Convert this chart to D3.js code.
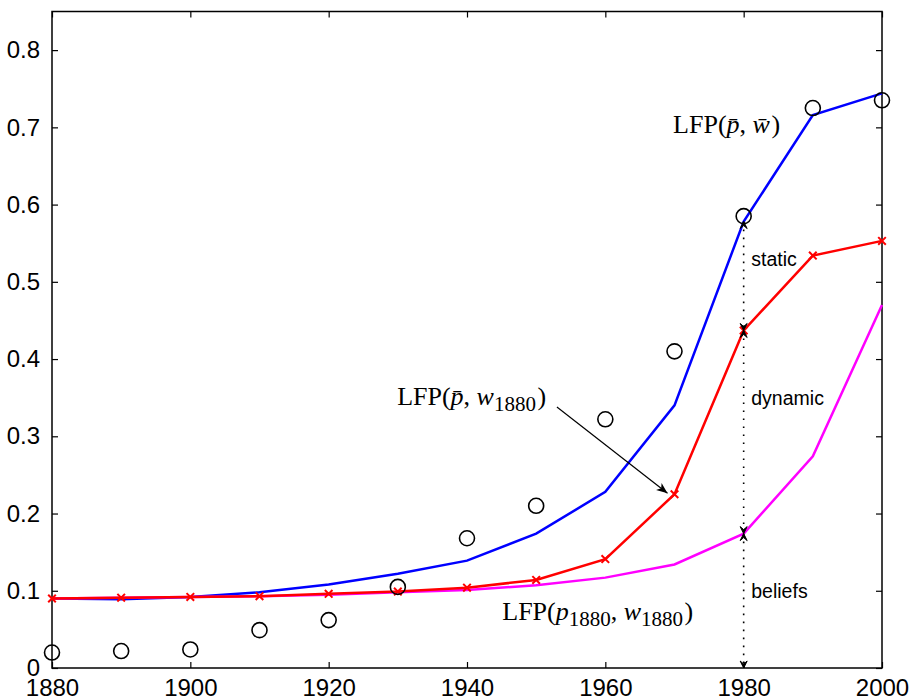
<!DOCTYPE html>
<html>
<head>
<meta charset="utf-8">
<script src="https://cdn.jsdelivr.net/npm/d3@7/dist/d3.min.js"></script>
<style>
  html, body { margin: 0; padding: 0; background: #fff; }
  svg { display: block; }
</style>
</head>
<body>
<svg id="chart" width="912" height="700"></svg>
<script>
// ---- data ----
const years = [1880, 1890, 1900, 1910, 1920, 1930, 1940, 1950, 1960, 1970, 1980, 1990, 2000];
const lfpBarPBarW = [0.090, 0.089, 0.092, 0.098, 0.108, 0.122, 0.139, 0.174, 0.228, 0.340, 0.578, 0.716, 0.744];
const lfpBarPW1880 = [0.090, 0.091, 0.092, 0.093, 0.096, 0.099, 0.104, 0.114, 0.141, 0.225, 0.437, 0.534, 0.553];
const lfpP1880W1880 = [0.090, 0.091, 0.092, 0.093, 0.095, 0.098, 0.101, 0.107, 0.117, 0.134, 0.174, 0.274, 0.470];
const observed = [0.020, 0.022, 0.024, 0.049, 0.062, 0.105, 0.168, 0.210, 0.322, 0.410, 0.585, 0.725, 0.735];
const xTicks = [1880, 1900, 1920, 1940, 1960, 1980, 2000];
const yTicks = [0, 0.1, 0.2, 0.3, 0.4, 0.5, 0.6, 0.7, 0.8];
const yTickLabels = ["0", "0.1", "0.2", "0.3", "0.4", "0.5", "0.6", "0.7", "0.8"];
const decompYear = 1980;
const decompNames = ["static", "dynamic", "beliefs"];

// ---- layout ----
const W = 912, H = 700;
const margin = { left: 52, right: 30, top: 11.5, bottom: 32 };
const iw = W - margin.left - margin.right;
const ih = H - margin.top - margin.bottom;

const svg = d3.select("#chart");
const g = svg.append("g").attr("transform", `translate(${margin.left},${margin.top})`);

const x = d3.scaleLinear().domain([1880, 2000]).range([0, iw]);
const y = d3.scaleLinear().domain([0, 0.85]).range([ih, 0]);

const tickFont = "'Liberation Sans', Arial, Helvetica, sans-serif";
const mathFont = "'Liberation Serif', 'Times New Roman', serif";

// ---- axes (MATLAB style box with inward ticks on all sides) ----
const tl = 6;
const axB = d3.axisBottom(x).tickValues(xTicks).tickSizeInner(-tl).tickSizeOuter(0).tickPadding(11).tickFormat(d3.format("d"));
const axT = d3.axisTop(x).tickValues(xTicks).tickSizeInner(-tl).tickSizeOuter(0).tickFormat("");
const axL = d3.axisLeft(y).tickValues(yTicks).tickSizeInner(-tl).tickSizeOuter(0).tickPadding(12).tickFormat((d, i) => yTickLabels[i]);
const axR = d3.axisRight(y).tickValues(yTicks).tickSizeInner(-tl).tickSizeOuter(0).tickFormat("");

function styleAxis(sel) {
  sel.select(".domain").remove();
  sel.selectAll(".tick line").attr("stroke", "#000").attr("stroke-width", 1.2);
  sel.selectAll(".tick text").attr("font-family", tickFont).attr("font-size", 24).attr("fill", "#000");
}
g.append("g").attr("transform", `translate(0,${ih})`).call(axB).call(styleAxis);
g.append("g").call(axT).call(styleAxis);
g.append("g").call(axL).call(styleAxis);
g.append("g").attr("transform", `translate(${iw},0)`).call(axR).call(styleAxis);

g.append("rect").attr("x", 0).attr("y", 0).attr("width", iw).attr("height", ih)
  .attr("fill", "none").attr("stroke", "#000").attr("stroke-width", 1.5);

// ---- lines ----
const line = d3.line().x((d, i) => x(years[i])).y(d => y(d));
g.append("path").datum(lfpBarPBarW).attr("d", line).attr("fill", "none").attr("stroke", "#0000ff").attr("stroke-width", 2.5);
g.append("path").datum(lfpP1880W1880).attr("d", line).attr("fill", "none").attr("stroke", "#ff00ff").attr("stroke-width", 2.5);
g.append("path").datum(lfpBarPW1880).attr("d", line).attr("fill", "none").attr("stroke", "#ff0000").attr("stroke-width", 2.5);

// red x markers
const ms = 3.8;
g.selectAll(".xm").data(lfpBarPW1880).enter().append("path")
  .attr("class", "xm")
  .attr("d", (d, i) => {
    const cx = x(years[i]), cy = y(d);
    return `M${cx - ms},${cy - ms}L${cx + ms},${cy + ms}M${cx - ms},${cy + ms}L${cx + ms},${cy - ms}`;
  })
  .attr("stroke", "#ff0000").attr("stroke-width", 2);

// observed circles
g.selectAll(".obs").data(observed).enter().append("circle")
  .attr("cx", (d, i) => x(years[i])).attr("cy", d => y(d)).attr("r", 7.5)
  .attr("fill", "none").attr("stroke", "#000").attr("stroke-width", 1.6);

// ---- decomposition arrows at 1980 ----
const di = years.indexOf(decompYear);
const levels = [lfpBarPBarW[di], lfpBarPW1880[di], lfpP1880W1880[di], 0];
const ax = x(decompYear);
function arrowHead(px, py, dir) {
  const L = 7, hw = 3.5, notch = 3;
  return `M${px},${py}L${px - hw},${py - dir * L}L${px},${py - dir * (L - notch)}L${px + hw},${py - dir * L}Z`;
}
for (let k = 0; k < 3; k++) {
  const y1 = y(levels[k]), y2 = y(levels[k + 1]);
  g.append("line").attr("x1", ax).attr("x2", ax).attr("y1", y1).attr("y2", y2)
    .attr("stroke", "#000").attr("stroke-width", 1.6).attr("stroke-dasharray", "1.6,6.4");
  g.append("path").attr("d", arrowHead(ax, y1, -1)).attr("fill", "#000").attr("stroke", "#000").attr("stroke-width", 1);
  g.append("path").attr("d", arrowHead(ax, y2, 1)).attr("fill", "#000").attr("stroke", "#000").attr("stroke-width", 1);
}
const decompLabelY = [0.520, 0.340, 0.0906];
decompNames.forEach((nm, k) => {
  g.append("text").attr("x", x(1981.1)).attr("y", y(decompLabelY[k]))
    .attr("font-family", tickFont).attr("font-size", 19.5).attr("fill", "#000").text(nm);
});

// ---- math labels ----
const subSize = 21, subShift = 5.5;
function mathLabel(px, py, parts) {
  const t = g.append("text").attr("x", px).attr("y", py)
    .attr("font-family", mathFont).attr("font-size", 26).attr("fill", "#000");
  parts.forEach(p => {
    const ts = t.append("tspan").text(p.t);
    if (p.it) ts.attr("font-style", "italic");
    if (p.sub) ts.attr("font-size", subSize).attr("dy", subShift);
    else if (p.dy) ts.attr("dy", p.dy);
    if (p.dx) ts.attr("dx", p.dx);
  });
  return t;
}
mathLabel(x(1969.8), y(0.6926), [
  { t: "LFP(" }, { t: "p\u0304", it: true }, { t: ", " }, { t: "w\u0304", it: true }, { t: ")", dx: 1.5 }
]);
mathLabel(x(1929.9), y(0.3405), [
  { t: "LFP(" }, { t: "p\u0304", it: true }, { t: ", " }, { t: "w", it: true },
  { t: "1880", sub: true }, { t: ")", dy: -subShift, dx: 1.5 }
]);
mathLabel(x(1945.1), y(0.0621), [
  { t: "LFP(" }, { t: "p", it: true }, { t: "1880", sub: true }, { t: ", ", dy: -subShift },
  { t: "w", it: true }, { t: "1880", sub: true }, { t: ")", dy: -subShift, dx: 1.5 }
]);

// pointer arrow to LFP(p̄, w1880) curve at 1970
const i70 = years.indexOf(1970);
const sx = x(1953.0), sy = y(0.338);
const ex = x(1970) - 7, ey = y(lfpBarPW1880[i70]) - 1;
g.append("line").attr("x1", sx).attr("y1", sy).attr("x2", ex).attr("y2", ey)
  .attr("stroke", "#000").attr("stroke-width", 1.2);
(function () {
  const ang = Math.atan2(ey - sy, ex - sx);
  const L = 11, hw = 4.5;
  const bx = ex - L * Math.cos(ang), by = ey - L * Math.sin(ang);
  const nx = -Math.sin(ang), ny = Math.cos(ang);
  const mx = ex - (L - 3) * Math.cos(ang), my = ey - (L - 3) * Math.sin(ang);
  g.append("path")
    .attr("d", `M${ex},${ey}L${bx + nx * hw},${by + ny * hw}L${mx},${my}L${bx - nx * hw},${by - ny * hw}Z`)
    .attr("fill", "#000");
})();
</script>
</body>
</html>
